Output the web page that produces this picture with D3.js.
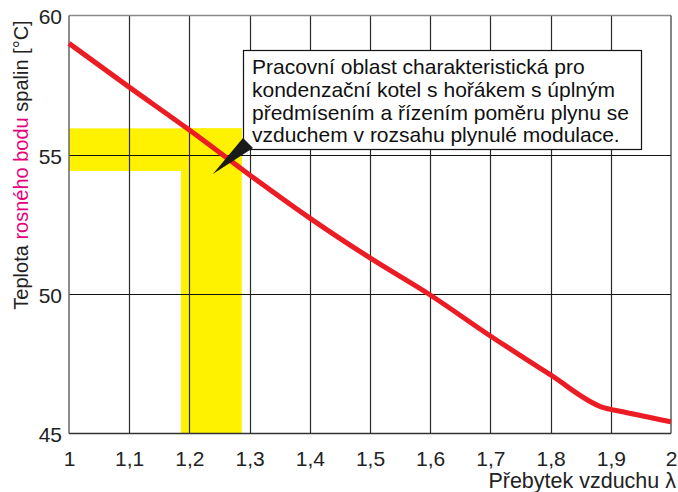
<!DOCTYPE html>
<html>
<head>
<meta charset="utf-8">
<script src="https://cdn.jsdelivr.net/npm/d3@7"></script>
<style>
  body { margin: 0; background: #fff; }
  svg text { font-family: "Liberation Sans", Arial, sans-serif; }
</style>
</head>
<body>
<div id="chart"></div>
<script>

var width = 678, height = 492;

// dew point curve
var lambdaVals = [1.0, 1.1, 1.2, 1.3, 1.4, 1.5, 1.6, 1.7, 1.8, 1.885, 1.92, 2.0];
var dewPoint   = [59.0, 57.43, 55.89, 54.28, 52.73, 51.3, 49.97, 48.5, 47.1, 45.95, 45.78, 45.42];

var yTicks = [45, 50, 55, 60];
var xTicks = [1, 1.1, 1.2, 1.3, 1.4, 1.5, 1.6, 1.7, 1.8, 1.9, 2];

// working area (yellow L shape)
var bandLambda = [1.186, 1.287];
var bandTemp = [54.42, 55.95];

var noteLines = [
  "Pracovní oblast charakteristická pro",
  "kondenzační kotel s hořákem s úplným",
  "předmísením a řízením poměru plynu se",
  "vzduchem v rozsahu plynulé modulace."
];
var notePoint = [1.239, 54.31];

var svg = d3.select("#chart").append("svg")
  .attr("width", width)
  .attr("height", height);

var x = d3.scaleLinear().domain([1, 2]).range([69, 671]);
var y = d3.scaleLinear().domain([45, 60]).range([433.5, 15.5]);

// yellow band
var yellow = "#fff200";
svg.append("rect")
  .attr("x", x(1)).attr("y", y(bandTemp[1]))
  .attr("width", x(bandLambda[1]) - x(1))
  .attr("height", y(bandTemp[0]) - y(bandTemp[1]))
  .attr("fill", yellow);
svg.append("rect")
  .attr("x", x(bandLambda[0])).attr("y", y(bandTemp[1]))
  .attr("width", x(bandLambda[1]) - x(bandLambda[0]))
  .attr("height", y(45) - y(bandTemp[1]))
  .attr("fill", yellow);

// grid
svg.selectAll(".vgrid")
  .data(xTicks.slice(1, -1))
  .enter().append("line")
  .attr("class", "vgrid")
  .attr("x1", d => Math.round(x(d)) + 0.5).attr("x2", d => Math.round(x(d)) + 0.5)
  .attr("y1", y(60)).attr("y2", y(45))
  .attr("stroke", "#2a2a2a").attr("stroke-width", 1.2);

svg.selectAll(".hgrid")
  .data([50, 55])
  .enter().append("line")
  .attr("class", "hgrid")
  .attr("x1", x(1)).attr("x2", x(2))
  .attr("y1", d => Math.round(y(d)) + 0.5).attr("y2", d => Math.round(y(d)) + 0.5)
  .attr("stroke", "#111").attr("stroke-width", 1.2);

// frame
svg.append("line").attr("x1", x(1)).attr("x2", x(2)).attr("y1", y(60)).attr("y2", y(60))
  .attr("stroke", "#8a8a8a").attr("stroke-width", 1.5);
svg.append("line").attr("x1", x(1)).attr("x2", x(1)).attr("y1", y(60)).attr("y2", y(45))
  .attr("stroke", "#666").attr("stroke-width", 1.5);
svg.append("line").attr("x1", x(1)).attr("x2", x(2)).attr("y1", y(45)).attr("y2", y(45))
  .attr("stroke", "#333").attr("stroke-width", 1.5);
svg.append("line").attr("x1", x(2)).attr("x2", x(2)).attr("y1", y(60)).attr("y2", y(45))
  .attr("stroke", "#333").attr("stroke-width", 1.2);

// red curve
var line = d3.line()
  .x((d, i) => x(lambdaVals[i]))
  .y(d => y(d))
  .curve(d3.curveMonotoneX);

svg.append("path")
  .datum(dewPoint)
  .attr("d", line)
  .attr("fill", "none")
  .attr("stroke", "#ec1c24")
  .attr("stroke-width", 5)
  .attr("stroke-linejoin", "round");

// axes
var yAxis = d3.axisLeft(y).tickValues(yTicks).tickSize(0).tickPadding(7).tickFormat(d => d);
var gy = svg.append("g").attr("transform", "translate(" + x(1) + ",0)").call(yAxis);
gy.select(".domain").remove();
gy.selectAll("text").attr("font-size", 21).attr("fill", "#222")
  .attr("font-family", "Liberation Sans, Arial, sans-serif")
  .attr("dy", "0.4em");

var xAxis = d3.axisBottom(x).tickValues(xTicks).tickSize(0).tickPadding(18)
  .tickFormat(d => String(+d.toFixed(1)).replace(".", ","));
var gx = svg.append("g").attr("transform", "translate(0," + y(45) + ")").call(xAxis);
gx.select(".domain").remove();
gx.selectAll("text").attr("font-size", 21).attr("fill", "#222")
  .attr("font-family", "Liberation Sans, Arial, sans-serif");

// axis titles
svg.append("text")
  .attr("x", 676).attr("y", 488)
  .attr("text-anchor", "end")
  .attr("font-size", 21.5).attr("fill", "#222")
  .text("Přebytek vzduchu λ");

var yt = svg.append("text")
  .attr("transform", "translate(28,165) rotate(-90)")
  .attr("text-anchor", "middle")
  .attr("font-size", 20).attr("fill", "#222");
yt.append("tspan").text("Teplota ");
yt.append("tspan").attr("fill", "#e5007d").text("rosného bodu");
yt.append("tspan").text(" spalin [°C]");

// annotation box
var box = { x: 243, y: 50, w: 398, h: 99 };
svg.append("rect")
  .attr("x", box.x + 0.5).attr("y", box.y + 0.5)
  .attr("width", box.w).attr("height", box.h)
  .attr("fill", "#fff").attr("stroke", "#111").attr("stroke-width", 1.2);

svg.append("path")
  .attr("d", "M" + box.x + "," + (box.y + box.h - 11) +
             " L" + (box.x + 10) + "," + (box.y + box.h - 1) +
             " L" + x(notePoint[0]) + "," + y(notePoint[1]) + " Z")
  .attr("fill", "#1a1a1a");

svg.selectAll(".note")
  .data(noteLines)
  .enter().append("text")
  .attr("class", "note")
  .attr("x", box.x + 9)
  .attr("y", (d, i) => 74 + i * 22.8)
  .attr("font-size", 21)
  .attr("fill", "#111")
  .text(d => d);

</script>
</body>
</html>
